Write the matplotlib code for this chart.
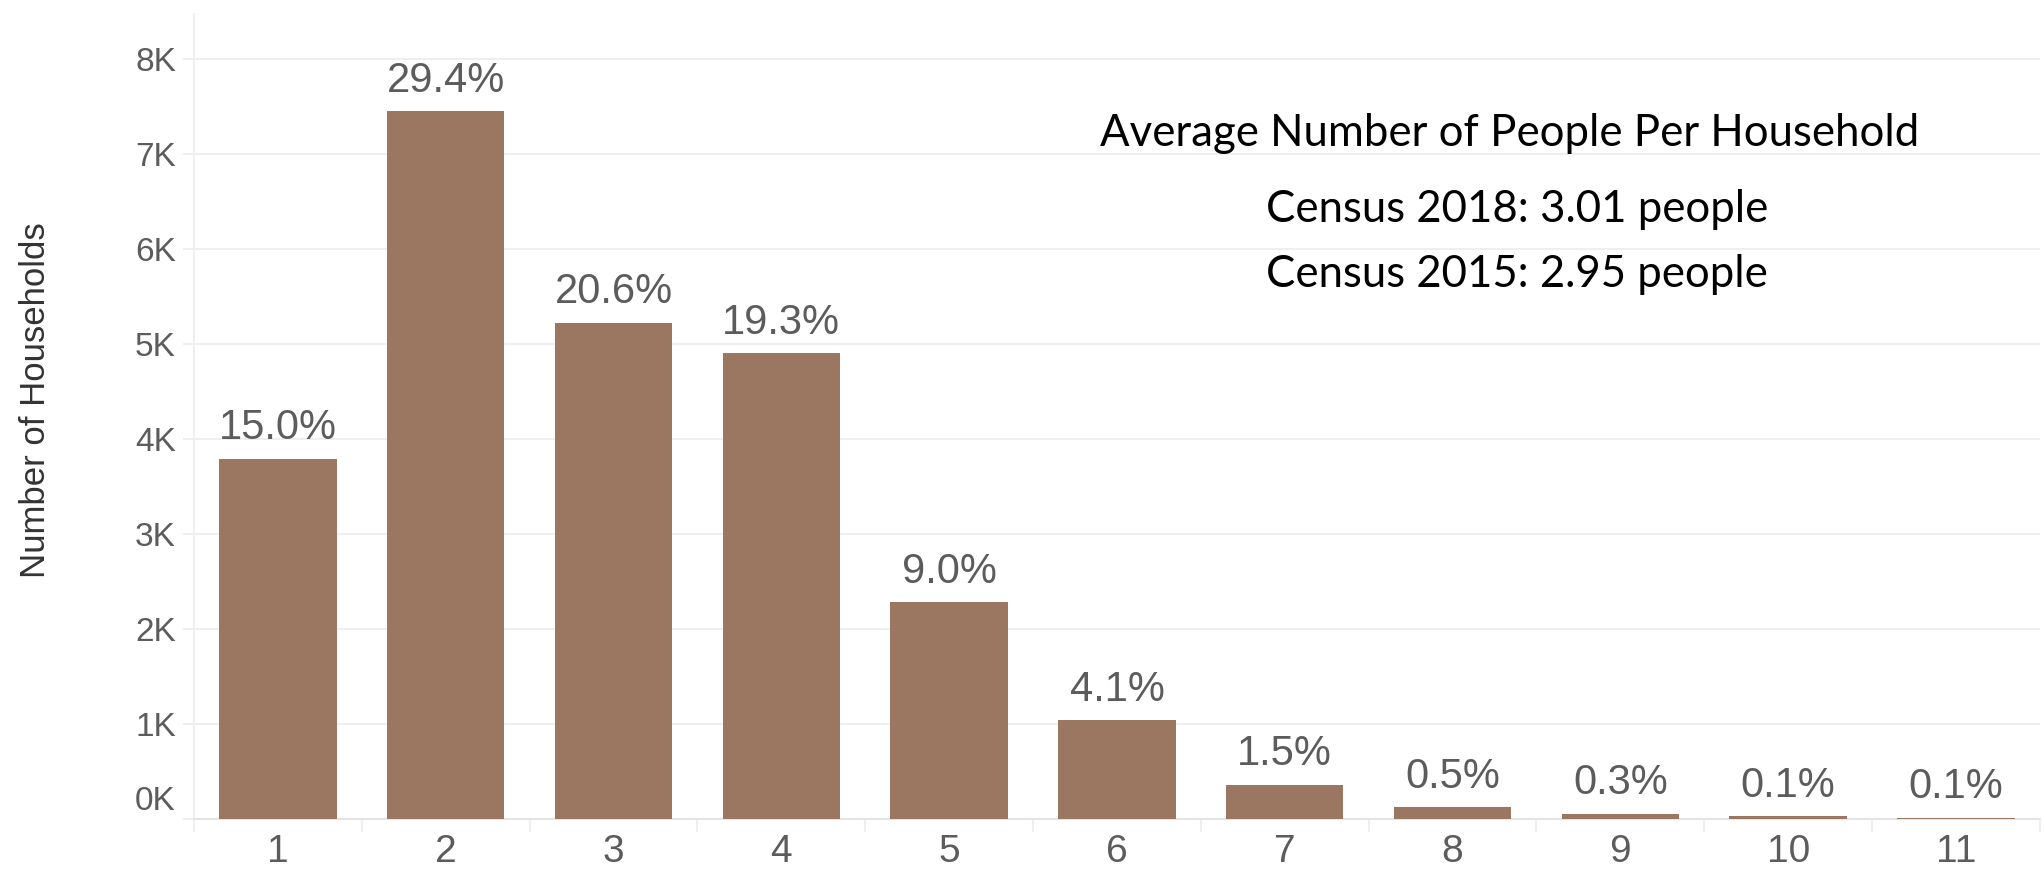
import matplotlib.pyplot as plt
from matplotlib.transforms import ScaledTranslation

# household size distribution
sizes = ["1", "2", "3", "4", "5", "6", "7", "8", "9", "10", "11"]
households = [3790, 7450, 5220, 4900, 2280, 1040, 360, 126, 55, 30, 12]
shares = ["15.0%", "29.4%", "20.6%", "19.3%", "9.0%", "4.1%", "1.5%",
          "0.5%", "0.3%", "0.1%", "0.1%"]
y_ticks = [0, 1000, 2000, 3000, 4000, 5000, 6000, 7000, 8000]
y_ticklabels = ["0K", "1K", "2K", "3K", "4K", "5K", "6K", "7K", "8K"]

note_title = "Average Number of People Per Household"
note_lines = ["Census 2018: 3.01 people", "Census 2015: 2.95 people"]

bar_color = "#9b7660"
grid_color = "#efefef"
text_gray = "#5c5c5c"

plt.rcParams['font.family'] = ['Liberation Sans', 'DejaVu Sans']

fig = plt.figure(figsize=(20.44, 8.71), dpi=100)
ax = fig.add_axes([0.0949, 0.0597, 0.9031, 0.9242])

x = list(range(len(sizes)))
bars = ax.bar(x, households, width=0.7, color=bar_color, zorder=3)

for xi, h, lab in zip(x, households, shares):
    ax.annotate(lab, (xi, h), xytext=(0, 14), textcoords='offset points',
                ha='center', va='baseline', fontsize=30, color=text_gray)

ax.set_xlim(-0.5, len(sizes) - 0.5)
ax.set_ylim(0, 8470)

ax.set_xticks(x)
ax.set_xticklabels(sizes)
ax.set_xticks([i - 0.5 for i in range(len(sizes) + 1)], minor=True)
ax.tick_params(axis='x', which='major', length=0, pad=11, labelsize=28,
               labelcolor=text_gray)
ax.tick_params(axis='x', which='minor', length=9, width=1.5,
               color=grid_color, direction='out')

ax.set_yticks(y_ticks)
ax.set_yticklabels(y_ticklabels)
ax.tick_params(axis='y', length=8, width=1.5, color=grid_color, pad=5,
               labelsize=24, labelcolor=text_gray)
# Tableau-style: the 0K label sits above the baseline
zero_lab = ax.get_yticklabels()[0]
zero_lab.set_transform(zero_lab.get_transform()
                       + ScaledTranslation(0, 15 / 72, fig.dpi_scale_trans))

ax.grid(axis='y', color=grid_color, linewidth=1.5, zorder=0)
for side in ['top', 'right']:
    ax.spines[side].set_visible(False)
ax.spines['left'].set_color(grid_color)
ax.spines['left'].set_linewidth(1.5)
ax.spines['bottom'].set_color('#e4e4e4')
ax.spines['bottom'].set_linewidth(1.5)

ax.set_ylabel("Number of Households", fontsize=25, color="#333333",
              labelpad=0)
ax.yaxis.set_label_coords(-0.077, 0.52)

# annotation block in figure pixel positions
W, H = 2044, 871
fig.text(1510 / W, 1 - 146 / H, note_title, ha='center', va='baseline',
         fontsize=31.5, family='Lato', color='black')
fig.text(1517 / W, 1 - 222 / H, note_lines[0], ha='center', va='baseline',
         fontsize=31.5, family='Lato', color='black')
fig.text(1517 / W, 1 - 287 / H, note_lines[1], ha='center', va='baseline',
         fontsize=31.5, family='Lato', color='black')

fig.savefig("out.png", dpi=100)
